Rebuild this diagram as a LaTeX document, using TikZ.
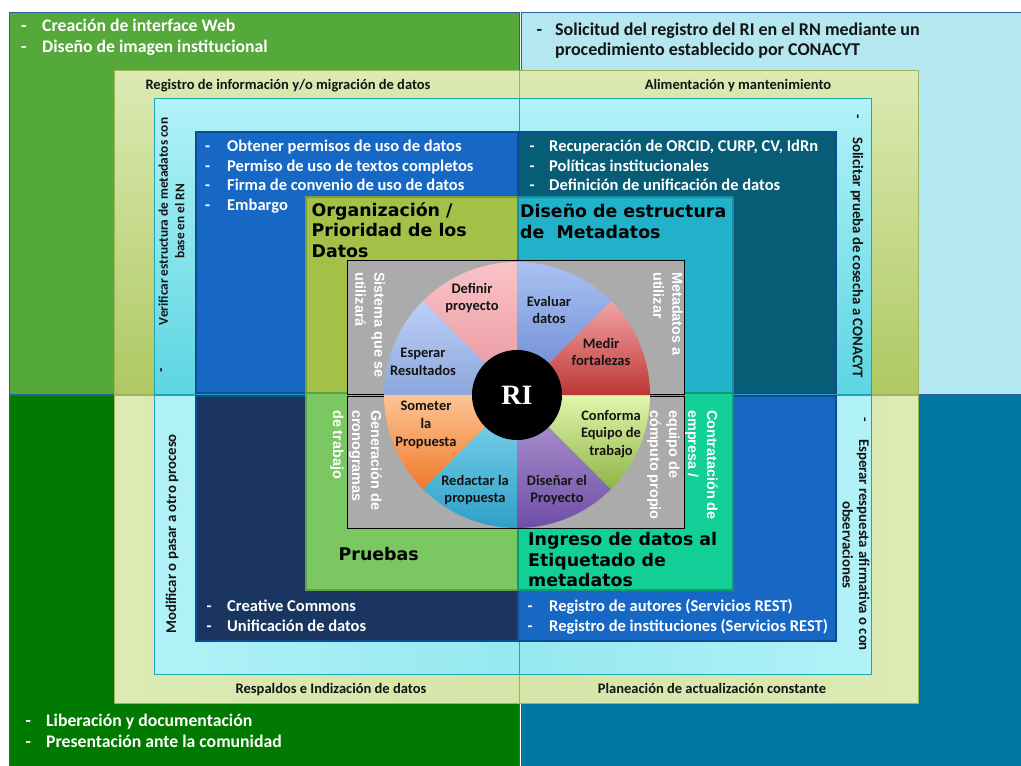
\documentclass[tikz,border=0pt]{standalone}
\usepackage{fontspec}
\setmainfont{Carlito}
\newfontfamily\titlefont{DejaVu Sans}
\newfontfamily\arialfont{Liberation Sans}
\newfontfamily\serifbold{Liberation Serif}

\definecolor{outerTL}{HTML}{55A83A}
\definecolor{outerTR}{HTML}{B5E7F1}
\definecolor{outerBL}{HTML}{007A00}
\definecolor{outerBR}{HTML}{0077A3}
\definecolor{qline}{HTML}{2E5C9E}
\definecolor{oliveL}{HTML}{DCEAB4}
\definecolor{oliveD}{HTML}{AFC862}
\definecolor{oliveM}{HTML}{9AB83E}
\definecolor{oliveLine}{HTML}{9DB555}
\definecolor{cyanL}{HTML}{B2F2F8}
\definecolor{cyanD}{HTML}{5CD6E2}
\definecolor{cyanM}{HTML}{22C2D0}
\definecolor{cyanLine}{HTML}{1FA6B4}
\definecolor{blueIn}{HTML}{1668C4}
\definecolor{tealIn}{HTML}{075C76}
\definecolor{navyIn}{HTML}{1A3660}
\definecolor{inLine}{HTML}{104C94}
\definecolor{orgBox}{HTML}{A3C147}
\definecolor{disBox}{HTML}{21B1C9}
\definecolor{pruBox}{HTML}{7BC862}
\definecolor{ingBox}{HTML}{12CF97}
\definecolor{ink}{HTML}{141414}
\definecolor{grayEdge}{HTML}{ABABAB}
\definecolor{grayMid}{HTML}{181818}
% wheel segment colours (light top / dark bottom)
\definecolor{defT}{HTML}{F9C3C8}\definecolor{defB}{HTML}{E8949B}
\definecolor{espT}{HTML}{BCD0F6}\definecolor{espB}{HTML}{8DA6DD}
\definecolor{somT}{HTML}{FCC494}\definecolor{somB}{HTML}{F07A2A}
\definecolor{redT}{HTML}{86DAF0}\definecolor{redB}{HTML}{2F9FC8}
\definecolor{disT}{HTML}{B59ED4}\definecolor{disB}{HTML}{6E4EA6}
\definecolor{conT}{HTML}{E2F5AC}\definecolor{conB}{HTML}{8EB646}
\definecolor{medT}{HTML}{F2A4A4}\definecolor{medB}{HTML}{BE3636}
\definecolor{evaT}{HTML}{AAC2F2}\definecolor{evaB}{HTML}{6585CE}

\newcommand\dashlead[1]{\makebox[#1][l]{-}}

\begin{document}
\begin{tikzpicture}[x=1pt,y=-1pt,
  quad/.style={draw=qline, line width=0.8pt},
  oliveband/.style={draw=oliveLine, line width=0.6pt},
  cyanband/.style={draw=cyanLine, line width=0.8pt},
  inner/.style={draw=inLine, line width=1.2pt},
  listtext/.style={font=\bfseries\fontsize{16.5}{19.5}\selectfont, text=white, inner sep=0pt, anchor=base west},
  outertext/.style={font=\bfseries\fontsize{17.7}{21.3}\selectfont, inner sep=0pt, anchor=base west},
  bandlabel/.style={font=\bfseries\fontsize{14.5}{16}\selectfont, text=ink, inner sep=0pt, anchor=base},
  sidetext/.style={font=\bfseries\fontsize{14.8}{16.5}\selectfont, text=ink, inner sep=0pt, align=center},
  title/.style={font=\titlefont\bfseries\fontsize{17.4}{20.5}\selectfont, text=black, inner sep=0pt, anchor=base west},
  graylabel/.style={font=\arialfont\bfseries\fontsize{14.4}{19}\selectfont, text=white, inner sep=0pt, align=left, rotate=-90, anchor=north west},
  slicetext/.style={font=\bfseries\fontsize{14.5}{17.7}\selectfont, text=ink, inner sep=0pt, align=center}
]
\useasboundingbox (0,0) rectangle (1021,766);
\fill[white] (0,0) rectangle (1021,766);

% ---- outer quadrants
\draw[quad, fill=outerTL] (9,12) rectangle (519,394);
\draw[quad, fill=outerTR] (521,12) rectangle (1022,394);
\draw[quad, fill=outerBL] (9,395) rectangle (519,767);
\draw[quad, fill=outerBR] (521,395) rectangle (1022,767);

% ---- olive frame, one piece per quadrant
\path[oliveband, top color=oliveL, bottom color=oliveD] (114,70) rectangle (519,394);
\path[oliveband, top color=oliveL, bottom color=oliveD] (519,70) rectangle (918,394);
\path[oliveband, left color=oliveL, middle color=oliveM, right color=oliveL!90!oliveM] (114,395) rectangle (519,703);
\path[oliveband, left color=oliveL!90!oliveM, middle color=oliveM, right color=oliveL] (519,395) rectangle (918,703);

% ---- cyan frame, one piece per quadrant
\path[cyanband, top color=cyanL, bottom color=cyanD] (154,98) rectangle (519,394);
\path[cyanband, top color=cyanL, bottom color=cyanD] (519,98) rectangle (871,394);
\path[cyanband, left color=cyanL, middle color=cyanM, right color=cyanL!80!cyanM] (154,395) rectangle (519,674);
\path[cyanband, left color=cyanL!80!cyanM, middle color=cyanM, right color=cyanL] (519,395) rectangle (871,674);

% ---- inner coloured quadrants
\draw[inner, fill=blueIn] (196,132) rectangle (518,393);
\draw[inner, fill=tealIn] (518,132) rectangle (836,393);
\draw[inner, fill=navyIn] (196,396) rectangle (518,641);
\draw[inner, fill=blueIn] (518,396) rectangle (836,641);

% ---- central stage boxes
\draw[draw=orgBox!80!black, line width=1.2pt, fill=orgBox] (306,197) rectangle (518,393);
\draw[draw=disBox!80!black, line width=1.2pt, fill=disBox] (518,197) rectangle (733,393);
\draw[draw=pruBox!80!black, line width=1.2pt, fill=pruBox] (306,393) rectangle (518,590);
\draw[draw=ingBox!75!black, line width=1.2pt, fill=ingBox] (518,393) rectangle (733,590);

% ---- dark panels behind the wheel
\path[draw=black, line width=0.8pt, left color=grayEdge, middle color=grayMid, right color=grayEdge] (347,260) rectangle (684,394);
\path[draw=black, line width=0.8pt, left color=grayEdge, middle color=grayMid, right color=grayEdge] (347,396) rectangle (684,528);

% ---- wheel
\coordinate (c) at (517,395);
\newcommand\pieslice[4]{\path[top color=#3, bottom color=#4] (c) -- ++(#1:133pt) arc[start angle=#1, end angle=#2, radius=133pt] -- cycle;}
\pieslice{90}{135}{defT}{defB}
\pieslice{135}{180}{espT}{espB}
\pieslice{180}{225}{somT}{somB}
\pieslice{225}{270}{redT}{redB}
\pieslice{270}{315}{disT}{disB}
\pieslice{315}{360}{conT}{conB}
\pieslice{0}{45}{medT}{medB}
\pieslice{45}{90}{evaT}{evaB}

\node[circle, fill=black, minimum size=90pt, inner sep=0pt, text=white,
      font=\serifbold\bfseries\fontsize{28}{30}\selectfont] (ri) at (c) {RI};

% ---- wheel labels
\node[slicetext] (definir) at (472,298) {Definir\\proyecto};
\node[slicetext] (evaluar) at (549,310) {Evaluar\\datos};
\node[slicetext] (medir) at (601,352) {Medir\\fortalezas};
\node[slicetext] (esperar) at (423,362) {Esperar\\Resultados};
\node[slicetext] (someter) at (426,425) {Someter\\la\\Propuesta};
\node[slicetext] (redactar) at (475,490) {Redactar la\\propuesta};
\node[slicetext] (disenar) at (557,490) {Diseñar el\\Proyecto};
\node[slicetext] (conforma) at (611,434) {Conforma\\Equipo de\\trabajo};

% ---- rotated labels on the dark panels
\node[graylabel] (sistema) at (385,272) {Sistema que se\\utilizará};
\node[graylabel] (metadatos) at (683,272) {Metadatos a\\utilizar};
\node[graylabel] (generacion) at (382,410) {Generación de\\cronogramas\\de trabajo};
\node[graylabel] (contratacion) at (718,410) {Contratación de\\empresa /\\equipo de\\cómputo propio};

% ---- stage titles
\node[title] (organizacion) at (311.5,216) {\begin{tabular}[t]{@{}l@{}}Organización /\\Prioridad de los\\Datos\end{tabular}};
\node[title] (diseno) at (520,217.5) {\begin{tabular}[t]{@{}l@{}}Diseño de estructura\\de\ \ Metadatos\end{tabular}};
\node[title] (pruebas) at (338.5,560.7) {Pruebas};
\node[title] (ingreso) at (528,545.7) {\begin{tabular}[t]{@{}l@{}}Ingreso de datos al\\Etiquetado de\\metadatos\end{tabular}};

% ---- task lists
\node[listtext] (permisos) at (205,151.7) {\begin{tabular}[t]{@{}l@{}}\dashlead{22pt}Obtener permisos de uso de datos\\\dashlead{22pt}Permiso de uso de textos completos\\\dashlead{22pt}Firma de convenio de uso de datos\\\dashlead{22pt}Embargo\end{tabular}};
\node[listtext] (orcid) at (529.5,151.7) {\begin{tabular}[t]{@{}l@{}}\dashlead{19.5pt}Recuperación de ORCID, CURP, CV, IdRn\\\dashlead{19.5pt}Políticas institucionales\\\dashlead{19.5pt}Definición de unificación de datos\end{tabular}};
\node[listtext] (creative) at (206.5,611.5) {\begin{tabular}[t]{@{}l@{}}\dashlead{20.5pt}Creative Commons\\\dashlead{20.5pt}Unificación de datos\end{tabular}};
\node[listtext] (registro) at (527.5,611.5) {\begin{tabular}[t]{@{}l@{}}\dashlead{21.5pt}Registro de autores (Servicios REST)\\\dashlead{21.5pt}Registro de instituciones (Servicios REST)\end{tabular}};

% ---- outer quadrant texts
\node[outertext, text=white] (web) at (21,31) {\begin{tabular}[t]{@{}l@{}}\dashlead{21pt}Creación de interface Web\\\dashlead{21pt}Diseño de imagen institucional\end{tabular}};
\node[outertext, text=ink, font=\bfseries\fontsize{18}{20}\selectfont] (solicitud) at (536.5,35) {\begin{tabular}[t]{@{}l@{}}\dashlead{18.5pt}Solicitud del registro del RI en el RN mediante un\\\hspace{18.5pt}procedimiento establecido por CONACYT\end{tabular}};
\node[outertext, text=white] (liberacion) at (25.5,726) {\begin{tabular}[t]{@{}l@{}}\dashlead{20.5pt}Liberación y documentación\\\dashlead{20.5pt}Presentación ante la comunidad\end{tabular}};

% ---- olive band labels
\node[bandlabel] (migracion) at (288,89.5) {Registro de información y/o migración de datos};
\node[bandlabel] (alimentacion) at (738,89.5) {Alimentación y mantenimiento};
\node[bandlabel] (respaldos) at (331,693.5) {Respaldos e Indización de datos};
\node[bandlabel] (planeacion) at (712,693.5) {Planeación de actualización constante};

% ---- cyan band labels
\node[sidetext, rotate=90, font=\bfseries\fontsize{13.3}{16.5}\selectfont] (verificar) at (171.5,221.5) {Verificar estructura de metadatos con\\base en el RN};
\node[sidetext, rotate=90] (verificardash) at (163,370) {-};
\node[sidetext, rotate=-90] (cosecha) at (857,257.5) {Solicitar prueba de cosecha a CONACYT};
\node[sidetext, rotate=-90] (cosechadash) at (856,117) {-};
\node[sidetext, rotate=90] (modificar) at (172,534) {Modificar o pasar a otro proceso};
\node[sidetext, rotate=-90] (respuesta) at (856,545) {Esperar respuesta afirmativa o con\\observaciones};
\node[sidetext, rotate=-90] (respuestadash) at (863,420) {-};
\end{tikzpicture}
\end{document}
